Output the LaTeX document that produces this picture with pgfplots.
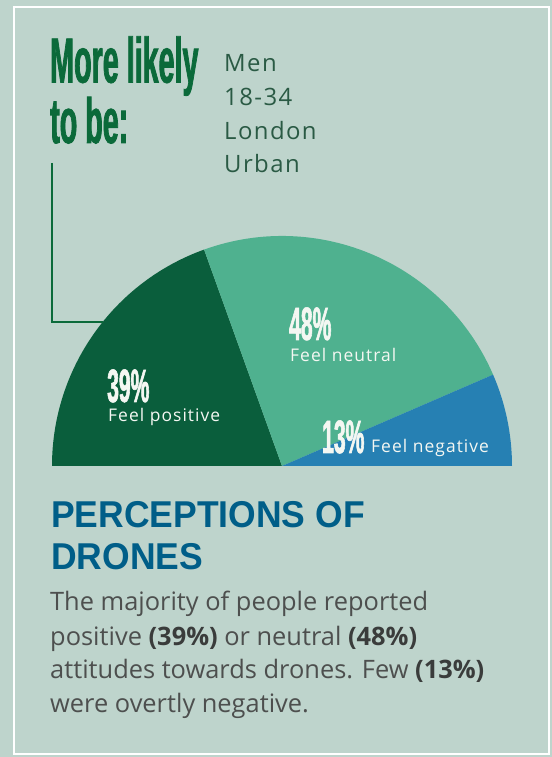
\documentclass[border=0pt]{standalone}
\usepackage{pgfplots}
\pgfplotsset{compat=1.18}
\usepackage{pgfplotstable}
\usepackage{fontspec}
\setmainfont{Open Sans}
\newfontfamily\condfont{Liberation Sans}[FakeStretch=0.45, FakeBold=1.2]
\newfontfamily\titlefont{Liberation Sans}[FakeStretch=0.95]
\newfontfamily\bodyfont{Open Sans}
\newfontfamily\spacedfont{Open Sans}[LetterSpace=6]
\definecolor{bg}{HTML}{BED4CC}
\definecolor{posc}{HTML}{0A5E3C}
\definecolor{neuc}{HTML}{4FB18F}
\definecolor{negc}{HTML}{2680B3}
\definecolor{headc}{HTML}{0B6A3A}
\definecolor{listc}{HTML}{2A5A44}
\definecolor{titlec}{HTML}{005E88}
\definecolor{bodyc}{HTML}{4D4F4E}
\definecolor{boldc}{HTML}{3A3C3B}
\definecolor{wtxt}{HTML}{F4F7F2}
\pgfplotstableread{
label value
positive 39
neutral 48
negative 13
}\piedata
\tikzset{lst/.style={anchor=base west, inner sep=0, text=listc, font=\spacedfont\fontsize{24}{24}\selectfont},
  big/.style={anchor=base west, inner sep=0, text=wtxt, font=\condfont\bfseries\fontsize{47}{47}\selectfont},
  sml/.style={anchor=base west, inner sep=0, text=wtxt, font=\spacedfont\fontsize{17.5}{17.5}\selectfont},
  bod/.style={anchor=base west, inner sep=0, text=bodyc, font=\bodyfont\fontsize{25.5}{25.5}\selectfont}}
\begin{document}
\begin{tikzpicture}
\pgfplotstablegetelem{0}{value}\of\piedata \let\vA\pgfplotsretval
\pgfplotstablegetelem{1}{value}\of\piedata \let\vB\pgfplotsretval
\pgfplotstablegetelem{2}{value}\of\piedata \let\vC\pgfplotsretval
\pgfmathsetmacro\aA{180-1.8*\vA}
\pgfmathsetmacro\aB{\aA-1.8*\vB}
\pgfmathsetmacro\aC{\aB-1.8*\vC}
\begin{axis}[x=1bp, y=1bp, xmin=0, xmax=552, ymin=0, ymax=757,
  hide axis, scale only axis, clip=false, at={(0,0)}, anchor=south west]
\fill[bg] (axis cs:0,0) rectangle (axis cs:552,757);
\draw[white, line width=2.5bp] (axis cs:14,3) rectangle (axis cs:549,750);
% half pie: centre (282,291), radius 230, 100% = 180 degrees
\fill[posc] (axis cs:282,291) -- (axis cs:{282+230*cos(180)},{291+230*sin(180)}) arc[start angle=180, end angle=\aA, radius=230bp] -- cycle;
\fill[neuc] (axis cs:282,291) -- (axis cs:{282+230*cos(\aA)},{291+230*sin(\aA)}) arc[start angle=\aA, end angle=\aB, radius=230bp] -- cycle;
\fill[negc] (axis cs:282,291) -- (axis cs:{282+230*cos(\aB)},{291+230*sin(\aB)}) arc[start angle=\aB, end angle=\aC, radius=230bp] -- cycle;
\draw[headc, line width=1.5bp] (axis cs:52,594) -- (axis cs:52,435) -- (axis cs:103,435);
% headline (base anchor = last line's baseline)
\node[anchor=base west, inner sep=0, text=headc, align=left, font=\condfont\bfseries\fontsize{64}{53}\selectfont] at (axis cs:50,614) {More likely\\to be:};
\node[lst] at (axis cs:224,685) {Men};
\node[lst] at (axis cs:224,651) {18-34};
\node[lst] at (axis cs:224,617) {London};
\node[lst] at (axis cs:224,584) {Urban};
% slice labels
\node[big] at (axis cs:107,355) {\vA\%};
\node[sml] at (axis cs:108,335) {Feel positive};
\node[big] at (axis cs:289,417) {\vB\%};
\node[sml] at (axis cs:290,395) {Feel neutral};
\node[big] at (axis cs:322,304) {\vC\%};
\node[sml] at (axis cs:371,304) {Feel negative};
% title
\node[anchor=base west, inner sep=0, text=titlec, font=\titlefont\bfseries\fontsize{37.5}{37.5}\selectfont] at (axis cs:51,229) {PERCEPTIONS OF};
\node[anchor=base west, inner sep=0, text=titlec, font=\titlefont\bfseries\fontsize{37.5}{37.5}\selectfont] at (axis cs:51,187) {DRONES};
% body
\node[bod] at (axis cs:50,146) {The majority of people reported};
\node[bod] at (axis cs:50,111) {positive \textcolor{boldc}{\bfseries(39\%)} or neutral \textcolor{boldc}{\bfseries(48\%)}};
\node[bod] at (axis cs:50,78) {attitudes towards drones. Few \textcolor{boldc}{\bfseries(13\%)}};
\node[bod] at (axis cs:50,44) {were overtly negative.};
\end{axis}
\end{tikzpicture}
\end{document}
